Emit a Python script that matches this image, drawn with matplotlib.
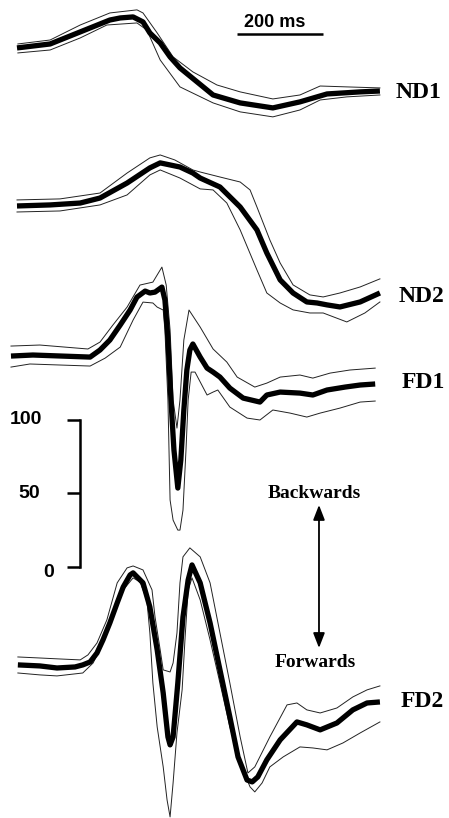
import matplotlib
matplotlib.use("Agg")
import matplotlib.pyplot as plt

# ---------------- data (time in ms, amplitude in scale units relative to trace baseline) -------------
nd1_mean_t = [0, 77, 147, 216, 240, 270, 293, 309, 333, 356, 379, 456, 519, 595, 658, 721, 798, 844]
nd1_mean_v = [0, 2.7, 10.9, 19.0, 20.4, 21.1, 17.7, 10.2, 3.4, -6.1, -13.6, -32.0, -37.4, -40.8, -36.7, -31.3,
              -29.9, -29.3]
nd1_up_t = [2, 77, 147, 216, 279, 293, 326, 363, 409, 465, 519, 595, 658, 705, 767, 844]
nd1_up_v = [2.7, 5.4, 15.6, 23.8, 25.9, 23.8, 10.2, -6.1, -16.3, -25.2, -29.9, -34.7, -32.0, -25.9, -26.5, -27.2]
nd1_lo_t = [2, 77, 147, 209, 279, 302, 333, 379, 456, 519, 595, 658, 705, 767, 844]
nd1_lo_v = [-3.4, -1.4, 6.8, 15.6, 17.0, 12.2, -8.2, -26.5, -37.4, -43.5, -46.9, -42.2, -35.4, -33.3, -32.0]

nd2_mean_t = [0, 77, 147, 193, 256, 309, 333, 379, 409, 426, 472, 519, 558, 581, 612, 642, 674, 698, 721, 751, 798, 844]
nd2_mean_v = [0, 0.7, 2.0, 5.4, 15.6, 25.9, 29.3, 26.5, 22.4, 19.0, 12.9, -0.7, -16.3, -32.0, -50.3, -59.2, -65.3,
              -66.0, -67.3, -68.7, -65.3, -59.2]
nd2_up_t = [0, 100, 193, 256, 309, 333, 367, 409, 426, 472, 519, 542, 558, 588, 612, 642, 681, 712, 751, 798, 844]
nd2_up_v = [4.1, 4.8, 8.8, 22.4, 32.7, 34.7, 31.3, 24.5, 23.1, 19.7, 16.3, 10.9, -0.7, -23.1, -38.8, -53.7, -60.5,
            -61.9, -59.2, -55.1, -49.6]
nd2_lo_t = [0, 100, 193, 256, 309, 333, 379, 426, 456, 488, 519, 558, 581, 612, 642, 681, 712, 767, 809, 844]
nd2_lo_v = [-4.1, -3.4, 0.7, 7.5, 21.1, 24.5, 19.0, 11.6, 10.9, 2.0, -16.3, -43.5, -59.2, -66.0, -70.7, -72.8,
            -72.8, -78.9, -72.8, -65.3]

fd1_mean_t = [-14, 37, 170, 193, 216, 240, 263, 279, 298, 309, 321, 337, 344, 349, 351, 358, 365, 374, 381, 388,
              395, 402, 409, 426, 442, 456, 472, 495, 526, 565, 581, 612, 658, 688, 721, 763, 798, 833]
fd1_mean_v = [0, 0.7, -0.7, 4.1, 10.9, 21.1, 31.3, 40.1, 44.2, 42.9, 43.5, 46.9, 38.1, 19.7, 10.9, -29.9, -63.9,
              -89.8, -70.7, -36.7, -9.5, 4.1, 8.2, -0.7, -8.2, -10.9, -14.3, -21.8, -28.6, -31.3, -26.5, -24.5,
              -25.2, -26.5, -23.1, -21.1, -19.7, -19.0]
fd1_up_t = [-14, 53, 165, 193, 223, 256, 286, 316, 337, 347, 356, 363, 372, 379, 388, 400, 426, 456, 488, 512,
            553, 581, 612, 658, 688, 728, 774, 833]
fd1_up_v = [6.8, 7.5, 4.8, 9.5, 21.1, 33.3, 48.3, 50.3, 60.5, 48.3, 17.7, -29.9, -49.0, -29.9, 10.9, 31.3, 19.7,
            4.8, -4.1, -14.3, -21.1, -18.4, -14.3, -12.9, -15.0, -11.6, -9.5, -8.2]
fd1_lo_t = [-14, 30, 170, 205, 240, 270, 293, 316, 326, 340, 344, 351, 356, 363, 374, 379, 386, 393, 398, 405,
            414, 442, 456, 467, 495, 535, 565, 595, 635, 674, 705, 751, 798, 833]
fd1_lo_v = [-7.5, -5.4, -6.8, -1.4, 6.1, 24.5, 36.7, 36.1, 33.3, 31.3, 17.7, -29.9, -97.9, -111.6, -118.4, -118.4,
            -104.8, -63.9, -29.9, -10.9, -10.9, -26.5, -24.5, -23.1, -34.7, -42.2, -43.5, -36.7, -38.8, -41.5,
            -38.8, -35.4, -31.3, -30.6]

fd2_mean_t = [2, 53, 93, 135, 153, 170, 186, 200, 216, 233, 247, 263, 270, 293, 309, 326, 340, 351, 356, 363, 374,
              386, 398, 407, 426, 449, 472, 495, 514, 535, 547, 560, 581, 612, 651, 674, 705, 744, 781, 814, 844]
fd2_mean_v = [0.7, 0, -1.4, -0.7, 0.7, 2.7, 8.8, 17.7, 29.3, 42.9, 53.7, 61.9, 63.3, 56.5, 40.1, 10.9, -18.4, -48.3,
              -53.7, -48.3, -11.6, 33.3, 58.5, 68.7, 56.5, 29.3, -2.7, -34.7, -61.9, -77.6, -78.9, -75.5, -63.9,
              -50.3, -38.1, -40.1, -43.5, -38.8, -29.9, -25.2, -24.5]
fd2_up_t = [2, 53, 95, 147, 165, 186, 209, 233, 256, 270, 293, 314, 321, 333, 340, 356, 363, 372, 379, 386, 402,
            426, 449, 472, 495, 519, 537, 553, 588, 628, 651, 674, 705, 744, 781, 814, 844]
fd2_up_v = [6.1, 5.4, 4.8, 4.1, 7.5, 15.6, 31.3, 56.5, 66.7, 68.0, 65.3, 51.7, 33.3, 10.9, -2.7, -4.1, 2.0, 22.4,
            56.5, 74.2, 80.3, 74.2, 56.5, 22.4, -11.6, -48.3, -72.8, -68.7, -48.3, -26.5, -25.2, -29.9, -32.0,
            -28.6, -21.1, -16.3, -13.6]
fd2_lo_t = [2, 53, 93, 153, 177, 200, 223, 247, 270, 286, 302, 309, 316, 326, 333, 340, 349, 356, 363, 372, 384,
            391, 398, 407, 426, 449, 472, 495, 519, 542, 553, 570, 588, 619, 658, 688, 721, 758, 798, 844]
fd2_lo_v = [-4.8, -6.1, -6.8, -4.8, 2.0, 15.6, 33.3, 51.7, 59.9, 57.1, 44.9, 22.4, -11.6, -41.5, -55.1, -68.7,
            -91.2, -102.7, -79.6, -45.6, -16.3, 19.7, 51.7, 59.9, 44.9, 17.7, -11.6, -41.5, -66.0, -82.3, -85.7,
            -79.6, -68.7, -61.9, -55.1, -55.8, -57.1, -52.4, -45.6, -38.1]

trace_names = ["ND1", "ND2", "FD1", "FD2"]
trace_offsets = [353.1, 245.6, 143.5, -67.3]

scale_ticks = [0, 50, 100]
time_bar_ms = 200

# ---------------- figure ----------------
fig = plt.figure(figsize=(4.49, 8.18), dpi=100)
ax = fig.add_axes([0, 0, 1, 1])
ax.set_xlim(-39.53, 1004.65)
ax.set_ylim(-170.75, 385.71)
ax.axis("off")

traces = [
    (nd1_mean_t, nd1_mean_v, nd1_up_t, nd1_up_v, nd1_lo_t, nd1_lo_v),
    (nd2_mean_t, nd2_mean_v, nd2_up_t, nd2_up_v, nd2_lo_t, nd2_lo_v),
    (fd1_mean_t, fd1_mean_v, fd1_up_t, fd1_up_v, fd1_lo_t, fd1_lo_v),
    (fd2_mean_t, fd2_mean_v, fd2_up_t, fd2_up_v, fd2_lo_t, fd2_lo_v),
]
for (mt, mv, ut, uv, lt, lv), off in zip(traces, trace_offsets):
    ax.plot(ut, [v + off for v in uv], color="#222222", lw=0.7, solid_joinstyle="round")
    ax.plot(lt, [v + off for v in lv], color="#222222", lw=0.7, solid_joinstyle="round")
    ax.plot(mt, [v + off for v in mv], color="black", lw=3.8, solid_joinstyle="round",
            solid_capstyle="butt")

label_pos = [(881, 323.1), (888, 183.7), (895, 125.2), (893, -91.2)]
for name, (lx, ly) in zip(trace_names, label_pos):
    ax.text(lx, ly, name, family="Liberation Serif", fontweight="bold", fontsize=17,
            ha="left", va="center")

# time scale bar
bar_x0 = 512
ax.plot([bar_x0, bar_x0 + time_bar_ms], [362.9, 362.9], color="black", lw=1.8, solid_capstyle="butt")
ax.text(bar_x0 + 16, 370.7, f"{time_bar_ms} ms", family="Liberation Sans", fontweight="bold",
        fontsize=13, ha="left", va="center")

# amplitude scale bar
bar_t = 146.5
ax.plot([bar_t, bar_t], [scale_ticks[0], scale_ticks[-1]], color="black", lw=1.8, solid_capstyle="projecting")
label_x = [74.4, 27.9, 20.9]
label_dy = [-4, 0, 0]
for tk, lx, dy in zip(scale_ticks, label_x, label_dy):
    ax.plot([bar_t - 30, bar_t], [tk, tk], color="black", lw=1.8, solid_capstyle="butt")
    ax.text(lx, tk + dy, str(tk), family="Liberation Sans", fontweight="bold", fontsize=14,
            ha="center", va="center")

# direction arrow
arrow_t = 702.3
ax.annotate("", xy=(arrow_t, 42.2), xytext=(arrow_t, -55.1),
            arrowprops=dict(arrowstyle="<|-|>,head_length=0.9,head_width=0.35", lw=1.3, color="black",
                            shrinkA=0, shrinkB=0))
ax.text(690.7, 49.7, "Backwards", family="Liberation Serif", fontweight="bold", fontsize=14,
        ha="center", va="center")
ax.text(693, -65.3, "Forwards", family="Liberation Serif", fontweight="bold", fontsize=14,
        ha="center", va="center")

fig.savefig("out.png", dpi=100)
